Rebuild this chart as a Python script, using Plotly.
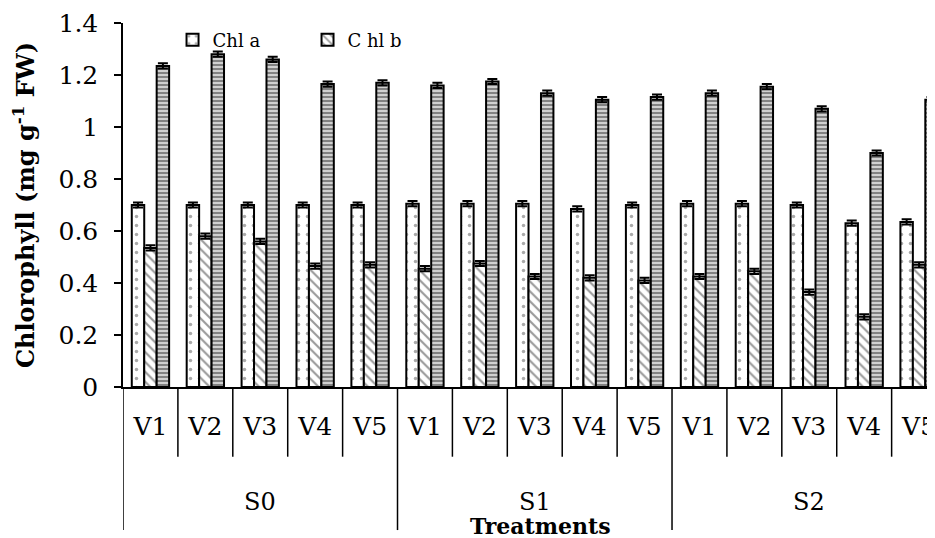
import plotly.graph_objects as go

# ---- data ----
salinity = ["S0"] * 5 + ["S1"] * 5 + ["S2"] * 5
variety = ["V1", "V2", "V3", "V4", "V5"] * 3
salinity_groups = ["S0", "S1", "S2"]

chl_a = [0.70, 0.70, 0.70, 0.70, 0.70,
         0.705, 0.705, 0.705, 0.685, 0.70,
         0.705, 0.705, 0.70, 0.63, 0.635]
chl_b = [0.535, 0.58, 0.56, 0.465, 0.47,
         0.455, 0.475, 0.425, 0.42, 0.41,
         0.425, 0.445, 0.365, 0.27, 0.47]
chl_total = [1.235, 1.28, 1.26, 1.165, 1.17,
             1.16, 1.175, 1.13, 1.105, 1.115,
             1.13, 1.155, 1.07, 0.90, 1.105]
err_a = [0.01] * 15
err_b = [0.01] * 15
err_total = [0.01] * 15

FONT = "DejaVu Serif"
cats = [f"{s} {v}" for s, v in zip(salinity, variety)]
n = len(cats)
per_group = 5

fig = go.Figure()
fig.add_bar(
    x=cats, y=chl_a, name="Chl a",
    marker=dict(color="white", line=dict(color="black", width=2),
                pattern=dict(shape=".", fgcolor="#555", bgcolor="white", size=9, solidity=0.12)),
    error_y=dict(type="data", array=err_a, color="black", thickness=2, width=5),
)
fig.add_bar(
    x=cats, y=chl_b, name="C hl b",
    marker=dict(color="white", line=dict(color="black", width=2),
                pattern=dict(shape="\\", fgcolor="#333", bgcolor="white", size=7, solidity=0.3)),
    error_y=dict(type="data", array=err_b, color="black", thickness=2, width=5),
)
fig.add_bar(
    x=cats, y=chl_total, name="Total", showlegend=False,
    marker=dict(color="#c8c8c8", line=dict(color="black", width=2),
                pattern=dict(shape="-", fgcolor="#222", bgcolor="#d0d0d0", size=4, solidity=0.45)),
    error_y=dict(type="data", array=err_total, color="black", thickness=2, width=5),
)

# category separators below the axis (inner: per variety, outer: per salinity group)
for i in range(n + 1):
    outer = (i % per_group == 0)
    fig.add_shape(type="line", xref="x", yref="paper",
                  x0=i - 0.5, x1=i - 0.5, y0=0, y1=-0.393 if outer else -0.1915,
                  line=dict(color="black", width=1.5))

# salinity group labels
for g, s in enumerate(salinity_groups):
    fig.add_annotation(x=cats[g * per_group + 2], y=-0.316, xref="x", yref="paper",
                       text=s, showarrow=False, yanchor="middle",
                       font=dict(size=24, family=FONT, color="black"))

fig.add_annotation(x=0.514, y=-0.382, xref="paper", yref="paper",
                   text="<b>Treatments</b>", showarrow=False, yanchor="middle",
                   font=dict(size=22, family=FONT, color="black"))

fig.update_layout(
    width=927, height=530,
    margin=dict(l=115, r=0, t=15, b=151),
    plot_bgcolor="white", paper_bgcolor="white",
    barmode="group", bargap=0.32, bargroupgap=0,
    font=dict(family=FONT, color="black", size=20),
    legend=dict(orientation="h", x=0.061, y=0.953, xanchor="left", yanchor="middle",
                font=dict(size=18, family=FONT), bgcolor="rgba(0,0,0,0)",
                entrywidth=90, entrywidthmode="pixels"),
    showlegend=True,
)
fig.update_yaxes(
    range=[0, 1.4], dtick=0.2, tickformat="~g", automargin=False,
    showline=True, linecolor="black", linewidth=1.5,
    ticks="outside", ticklen=7, tickcolor="black", tickwidth=1.5,
    ticklabelstandoff=11,
    showgrid=False, zeroline=False,
    tickfont=dict(size=25, family=FONT),
    title=dict(text="<b>Chlorophyll (mg g<sup>-1</sup> FW)</b>", font=dict(size=24, family=FONT), standoff=18),
)
fig.update_xaxes(
    type="category", range=[-0.5, 14.29], automargin=False,
    tickmode="array", tickvals=cats, ticktext=variety,
    showline=True, linecolor="black", linewidth=1.5,
    ticks="", ticklabelstandoff=16,
    showgrid=False,
    tickfont=dict(size=25, family=FONT),
)

fig.write_html("out.html")
